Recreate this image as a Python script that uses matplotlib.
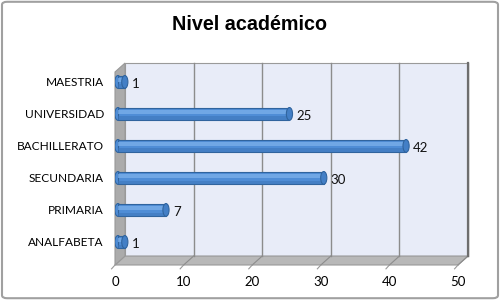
import matplotlib
matplotlib.use("Agg")
import matplotlib.pyplot as plt
from matplotlib.patches import Polygon, Ellipse, FancyBboxPatch

# data
categories = ['ANALFABETA', 'PRIMARIA', 'SECUNDARIA', 'BACHILLERATO', 'UNIVERSIDAD', 'MAESTRIA']
values = [1, 7, 30, 42, 25, 1]
xticks = [0, 10, 20, 30, 40, 50]

plt.rcParams['font.family'] = ['Lato', 'DejaVu Sans']

fig = plt.figure(figsize=(5, 3), dpi=100)
ax = fig.add_axes([115 / 500, 35 / 300, 343 / 500, 193 / 300])
ax.set_xlim(0, 50)
y0, y1 = -0.72, 5.31
ax.set_ylim(y0, y1)

# depth offset for fake 3d
dx, dy = 1.46, 0.28

# back wall
ax.add_patch(Polygon([(dx, y0 + dy), (50 + dx, y0 + dy), (50 + dx, y1 + dy), (dx, y1 + dy)],
                     closed=True, fc='#e8ecf8', ec='#9a9a9a', lw=0.8, clip_on=False, zorder=0))
# floor
ax.add_patch(Polygon([(0, y0), (50, y0), (50 + dx, y0 + dy), (dx, y0 + dy)],
                     closed=True, fc='#b8b8b8', ec='#999999', lw=0.8, clip_on=False, zorder=1))
# left wall
ax.add_patch(Polygon([(0, y0), (dx, y0 + dy), (dx, y1 + dy), (0, y1)],
                     closed=True, fc='#ababab', ec='#999999', lw=0.8, clip_on=False, zorder=1))

# grid lines on the wall and floor
for t in xticks[1:]:
    ax.plot([t + dx, t + dx], [y0 + dy, y1 + dy], color='#8c8c8c', lw=1, clip_on=False, zorder=1)
    ax.plot([t, t + dx], [y0, y0 + dy], color='#8c8c8c', lw=0.8, clip_on=False, zorder=2)
ax.plot([50 + dx, 50 + dx], [y0 + dy, y1 + dy], color='#6e6e6e', lw=1.6, clip_on=False, zorder=2)
for t in xticks:
    ax.plot([t, t - 0.5], [y0, y0 - 0.12], color='#999999', lw=0.8, clip_on=False, zorder=2)

# cylinder bars
ys = list(range(len(categories)))
left = dx / 2 - 0.3
bh = 0.4
ax.barh(ys, values, left=left, height=bh, color='#4f8dd6', edgecolor='#30649e', lw=0.8, zorder=3)
ax.barh([y + 0.06 for y in ys], values, left=left, height=0.12, color='#7fb3ec', lw=0, alpha=0.7, zorder=4)
ax.barh([y - 0.13 for y in ys], values, left=left, height=0.1, color='#3e76ba', lw=0, alpha=0.6, zorder=4)
for y, v in zip(ys, values):
    ax.add_patch(Ellipse((left, y), 0.9, bh, fc='#4f8dd6', ec='#30649e', lw=0.8, zorder=2.9))
    ax.add_patch(Ellipse((left + v, y), 0.9, bh, fc='#437fc6', ec='#30649e', lw=0.8, zorder=5))
    ax.text(left + v + 1.0, y - 0.05, str(v), va='center', ha='left', fontsize=9.5, color='#111111')

ax.set_yticks(ys)
ax.set_yticklabels(categories, fontsize=8.6)
ax.set_xticks(xticks)
ax.set_xticklabels([str(t) for t in xticks], fontsize=9.5)
ax.tick_params(axis='y', length=0, pad=8)
ax.tick_params(axis='x', length=0, pad=8)
for s in ax.spines.values():
    s.set_visible(False)
ax.patch.set_visible(False)

fig.text(0.5, 1 - 25 / 300, 'Nivel académico', ha='center', va='center',
         fontsize=14.2, fontweight='bold', family='Liberation Sans')

# outer frame
fig.patches.append(FancyBboxPatch((0.004, 0.006), 0.992, 0.988, boxstyle='round,pad=0,rounding_size=0.01',
                                  transform=fig.transFigure, fc='none', ec='#a0a0a0', lw=1.5))

fig.savefig('out.png', dpi=100)
